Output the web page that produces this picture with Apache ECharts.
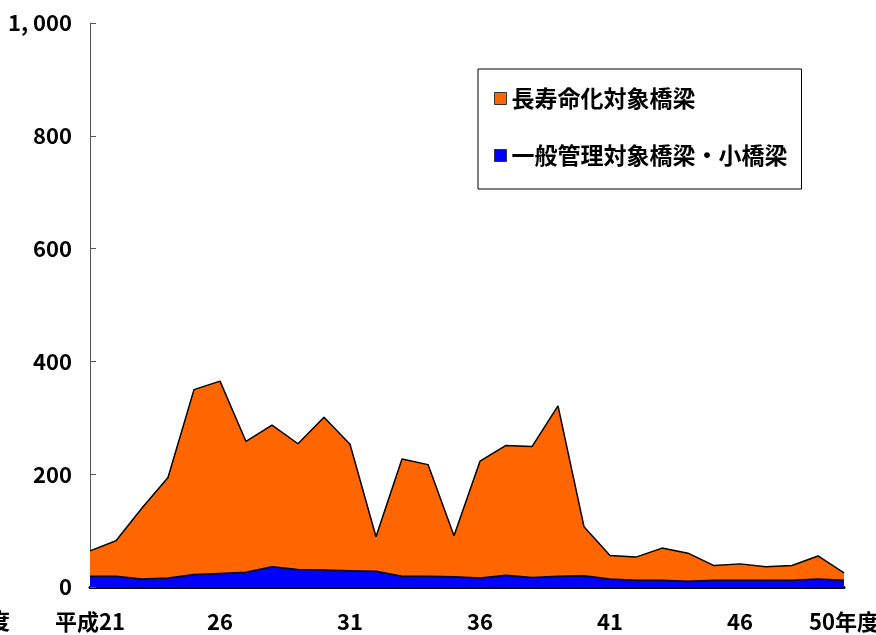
<!DOCTYPE html>
<html>
<head>
<meta charset="utf-8">
<script src="https://cdn.jsdelivr.net/npm/echarts@6/dist/echarts.min.js"></script>
<style>
	html, body { margin: 0; padding: 0; background: #fff; }
	#main { width: 876px; height: 635px; }
</style>
</head>
<body>
<div id="main"></div>
<script>
// 年度（平成21～50年度）
var years = [21, 22, 23, 24, 25, 26, 27, 28, 29, 30,
	31, 32, 33, 34, 35, 36, 37, 38, 39, 40,
	41, 42, 43, 44, 45, 46, 47, 48, 49, 50];

// 一般管理対象橋梁・小橋梁
var generalBridges = [19, 19, 14, 16, 22, 24, 26, 36, 31, 30,
	29, 28, 19, 19, 18, 16, 21, 17, 19, 20,
	14, 12, 12, 10, 12, 12, 12, 12, 14, 12];

// 長寿命化対象橋梁
var longLifeBridges = [45, 63, 126, 178, 328, 341, 232, 251, 223, 271,
	224, 61, 208, 198, 73, 207, 230, 232, 302, 87,
	42, 41, 57, 50, 26, 29, 24, 26, 41, 13];

// 表示する目盛ラベル
var shownYears = [21, 26, 31, 36, 41, 46, 50];

var numFont = "'Noto Sans CJK JP', sans-serif";
var jpFont = "'Noto Sans CJK JP', sans-serif";

var myChart = echarts.init(document.getElementById('main'));

var categories = years.map(function(y) { return String(y); });

var option = {
	animation : false,
	grid : {
		left : 90,
		right : 32,
		top : 23,
		bottom : 48,
		containLabel : false,
		outerBoundsMode : 'none'
	},
	legend : {
		orient : 'vertical',
		left : 478,
		top : 69,
		padding : [ 18, 14, 22, 16 ],
		itemGap : 34,
		itemWidth : 12,
		itemHeight : 12,
		borderColor : '#000',
		borderWidth : 1,
		icon : 'rect',
		itemStyle : {
			borderColor : '#333',
			borderWidth : 1
		},
		textStyle : {
			fontFamily : jpFont,
			fontWeight : 'bold',
			fontSize : 23,
			color : '#000'
		},
		data : [ '長寿命化対象橋梁', '一般管理対象橋梁・小橋梁' ]
	},
	xAxis : {
		type : 'category',
		boundaryGap : false,
		data : categories,
		axisLine : {
			lineStyle : { color : '#000', width : 3 }
		},
		axisTick : {
			inside : true,
			length : 6,
			interval : function(i, v) {
				return shownYears.indexOf(Number(v)) >= 0 && i !== 0 && i !== years.length - 1;
			},
			lineStyle : { color : '#000' }
		},
		axisLabel : {
			margin : 24,
			interval : function(i, v) {
				return shownYears.indexOf(Number(v)) >= 0;
			},
			formatter : function(v) {
				if (v === '21') return '平成21';
				if (v === '50') return '50年度';
				return v;
			},
			fontFamily : numFont,
			fontWeight : 'bold',
			fontSize : 22,
			color : '#000'
		}
	},
	yAxis : {
		type : 'value',
		min : 0,
		max : 1000,
		interval : 200,
		splitLine : { show : false },
		axisLine : {
			show : true,
			lineStyle : { color : '#555', width : 1 }
		},
		axisTick : {
			show : true,
			inside : true,
			length : 6,
			lineStyle : { color : '#555' }
		},
		axisLabel : {
			margin : 18,
			formatter : function(v) {
				return v === 1000 ? '1, 000' : String(v);
			},
			fontFamily : numFont,
			fontWeight : 'bold',
			fontSize : 22,
			color : '#000'
		}
	},
	series : [ {
		name : '一般管理対象橋梁・小橋梁',
		type : 'line',
		stack : 'total',
		symbol : 'none',
		data : generalBridges,
		itemStyle : { color : '#0000FF' },
		lineStyle : { color : '#000', width : 1.5 },
		areaStyle : { color : '#0000FF', opacity : 1 },
		z : 3
	}, {
		name : '長寿命化対象橋梁',
		type : 'line',
		stack : 'total',
		symbol : 'none',
		data : longLifeBridges,
		itemStyle : { color : '#FF6600' },
		lineStyle : { color : '#000', width : 1.5 },
		areaStyle : { color : '#FF6600', opacity : 1 },
		z : 2
	} ],
	graphic : [ {
		type : 'text',
		left : -12,
		top : 610,
		style : {
			text : '度',
			font : 'bold 22px ' + jpFont,
			fill : '#000'
		}
	} ]
};

myChart.setOption(option);
</script>
</body>
</html>
